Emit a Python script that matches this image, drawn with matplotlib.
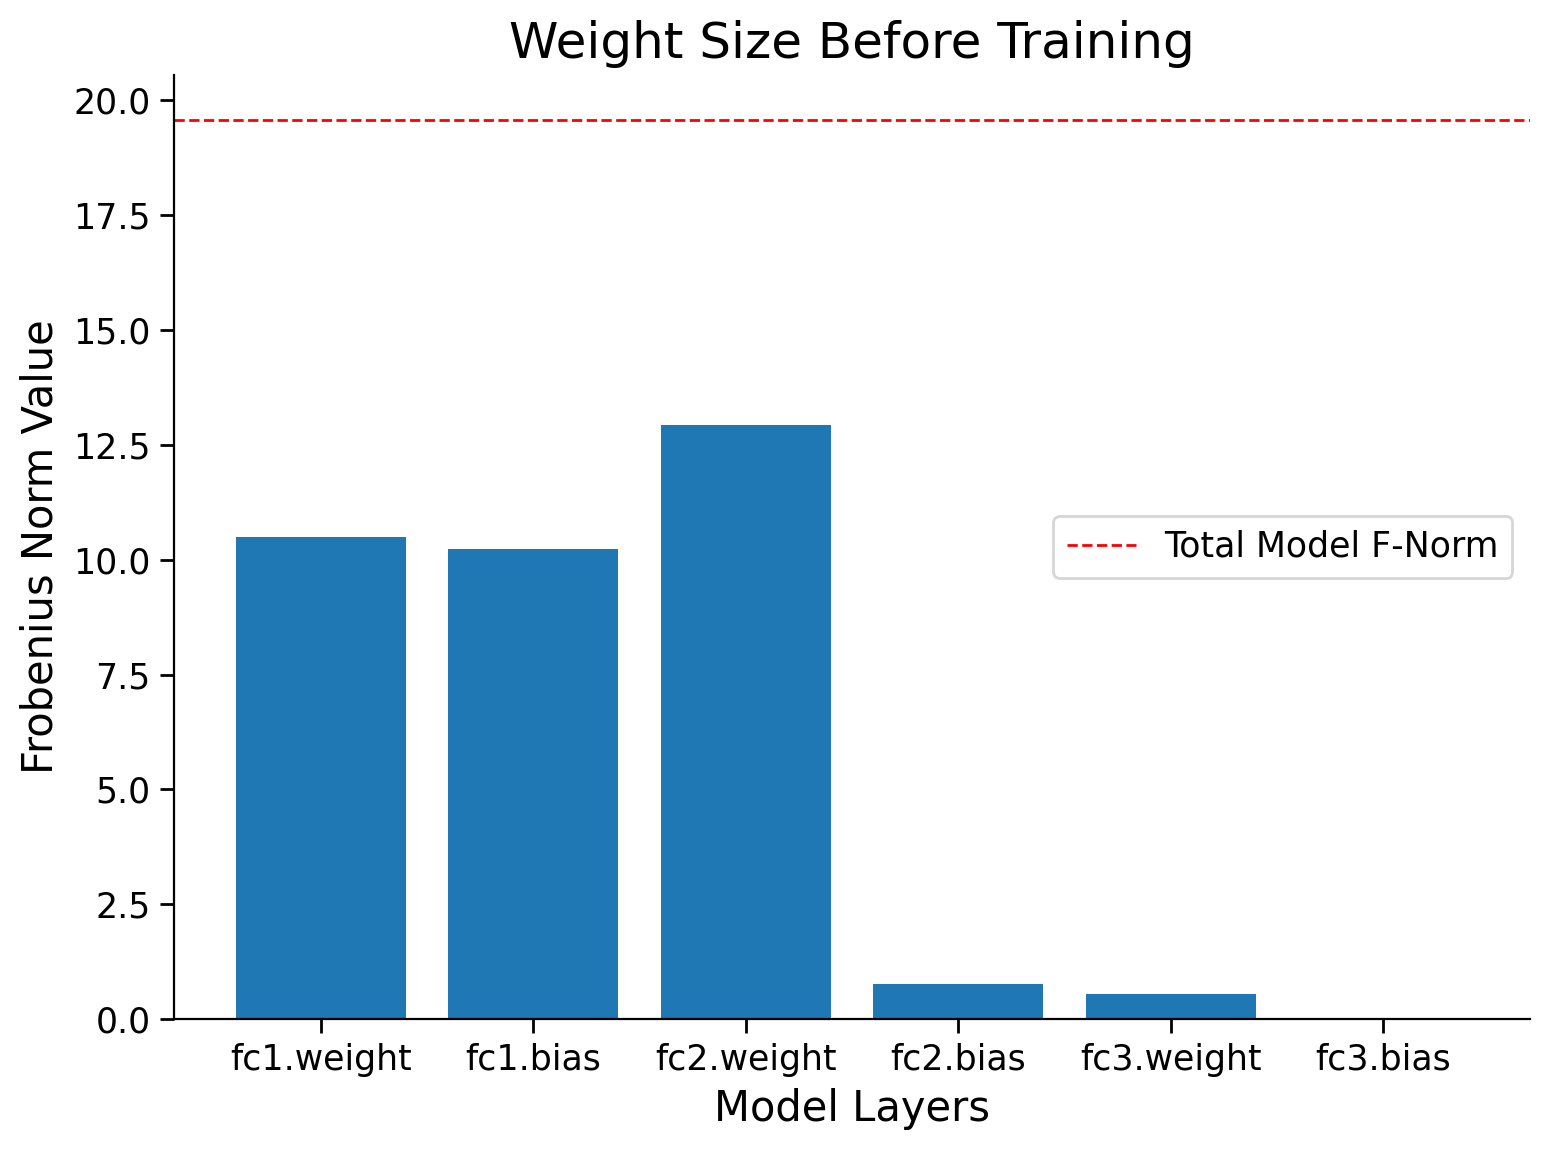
import matplotlib.pyplot as plt
import numpy as np

layers = ["fc1.weight", "fc1.bias", "fc2.weight", "fc2.bias", "fc3.weight", "fc3.bias"]
norms = [10.50, 10.24, 12.93, 0.76, 0.545, 0.0]

total = np.sqrt(np.sum(np.array(norms) ** 2))

fig, ax = plt.subplots(figsize=(7.75, 5.75), dpi=200)
ax.bar(layers, norms, color="#1f77b4")
ax.axhline(total, color="red", linestyle="--", linewidth=1, label="Total Model F-Norm")

ax.set_title("Weight Size Before Training", fontsize=18)
ax.set_xlabel("Model Layers", fontsize=15)
ax.set_ylabel("Frobenius Norm Value", fontsize=15)
ax.tick_params(labelsize=12.5, length=5, width=1)
ax.spines["top"].set_visible(False)
ax.spines["right"].set_visible(False)
ax.legend(loc="center right", fontsize=12.5)

plt.subplots_adjust(left=0.1123, right=0.987, top=0.9348, bottom=0.1139)
plt.savefig("out.png")
